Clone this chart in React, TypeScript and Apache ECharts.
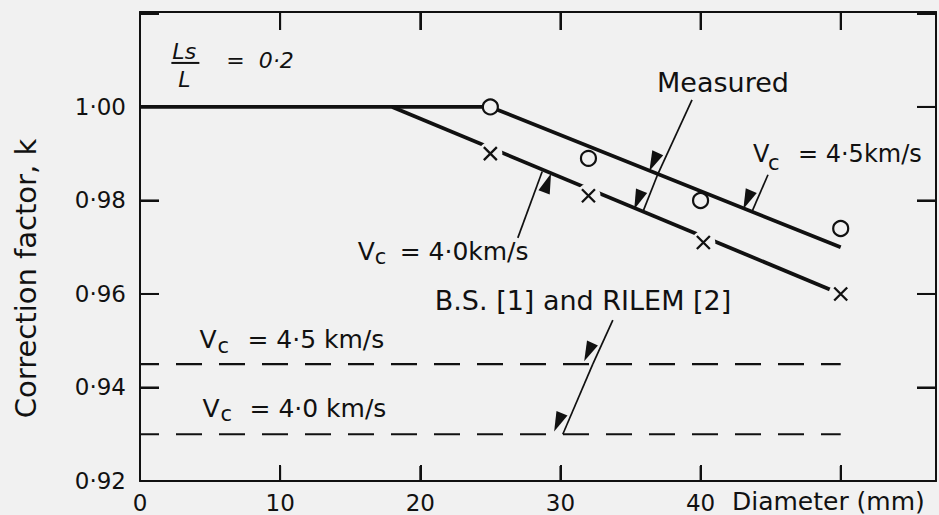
import React, { useEffect, useRef } from "react";
import * as echarts from "echarts";

// ---- axis ticks / labels ----
const xInterval = 10;
const xTickValues = [10, 20, 30, 40, 50];
const xLabelValues = [0, 10, 20, 30, 40];
const yInterval = 0.02;
const yLabelValues = [0.92, 0.94, 0.96, 0.98, 1.0];
const yLeftTickValues = [0.94, 0.96, 0.98];
const yRightTickValues = [0.94, 0.96, 0.98, 1.0];

// ---- measured points ----
// Vc = 4.5 km/s (circles)
const diam45 = [25, 32, 40, 50];
const k45 = [1.0, 0.989, 0.98, 0.974];
// Vc = 4.0 km/s (crosses)
const diam40 = [25, 32, 40.2, 50];
const k40 = [0.99, 0.981, 0.971, 0.96];

// ---- fitted "measured" lines ----
const fit45X = [0, 25, 50];
const fit45K = [1.0, 1.0, 0.97];
const fit40X = [18, 50];
const fit40K = [1.0, 0.96];

// ---- B.S. / RILEM recommended values ----
const bsX = [0, 50];
const bs45K = [0.945, 0.945];
const bs40K = [0.93, 0.93];

// ---- annotation arrows (data coords: from -> to) ----
const arrowFrom = [
  [39.39, 1.0015],
  [36.96, 0.9857],
  [44.81, 0.9855],
  [26.96, 0.972],
  [33.74, 0.9544],
  [32.31, 0.945],
];
const arrowTo = [
  [36.96, 0.9857],
  [35.89, 0.9776],
  [43.67, 0.9776],
  [28.7, 0.9862],
  [32.31, 0.945],
  [30.17, 0.93],
];

const INK = "#111111";
const BG = "#f1f1f1";
const FONT = "DejaVu Sans";

const zip = (xs: number[], ys: number[]) => xs.map((x, i) => [x, ys[i]]);
const fmt = (v: number) => v.toFixed(2).replace(".", "\u00b7");
const near = (list: number[], v: number, eps: number) =>
  list.some((u) => Math.abs(u - v) < eps);

export default function App() {
  const ref = useRef<HTMLDivElement>(null);

  useEffect(() => {
    const chart = echarts.init(ref.current!, null, { renderer: "svg" });

    const axisLine = { show: true, onZero: false, lineStyle: { color: INK, width: 2 } };
    const xMax = 56.8;
    const yMax = 1.0203;
    const xRange = { min: 0, max: xMax, interval: xInterval };
    const yRange = { min: 0.92, max: yMax, interval: yInterval };
    const tick = (len: number) => ({
      show: true,
      inside: true,
      length: len,
      lineStyle: { color: INK, width: 2 },
    });

    const option: any = {
      animation: false,
      backgroundColor: BG,
      grid: { left: 140, right: 3, top: 12, bottom: 34, containLabel: false },
      xAxis: [
        {
          type: "value",
          position: "bottom",
          ...xRange,
          axisLine,
          splitLine: { show: false },
          axisTick: tick(16),
          axisLabel: {
            show: true,
            showMinLabel: true,
            showMaxLabel: false,
            formatter: (v: number) => (near(xLabelValues, v, 1e-6) ? String(v) : ""),
            color: INK,
            fontSize: 23,
            fontFamily: FONT,
            margin: 10,
          },
        },
        {
          type: "value",
          position: "top",
          ...xRange,
          axisLine,
          splitLine: { show: false },
          axisTick: tick(18),
          axisLabel: { show: false },
        },
      ],
      yAxis: [
        {
          type: "value",
          position: "left",
          ...yRange,
          axisLine,
          splitLine: { show: false },
          axisTick: tick(19),
          axisLabel: {
            show: true,
            showMinLabel: true,
            showMaxLabel: false,
            formatter: (v: number) => (near(yLabelValues, v, 1e-6) ? fmt(v) : ""),
            color: INK,
            fontSize: 23,
            fontFamily: FONT,
            margin: 14,
          },
        },
        {
          type: "value",
          position: "right",
          ...yRange,
          axisLine,
          splitLine: { show: false },
          axisTick: tick(19),
          axisLabel: { show: false },
        },
      ],
      series: [
        {
          type: "line",
          name: "Measured Vc=4.5",
          data: zip(fit45X, fit45K),
          symbol: "none",
          silent: true,
          z: 2,
          lineStyle: { color: INK, width: 3.8 },
          markLine: {
            silent: true,
            symbol: ["none", "triangle"],
            symbolSize: [12, 20],
            symbolOffset: [0, 9],
            label: { show: false },
            lineStyle: { color: INK, width: 1.7, type: "solid" },
            itemStyle: { color: INK },
            emphasis: { disabled: true },
            data: arrowFrom.map((f, i) => [{ coord: f }, { coord: arrowTo[i] }]),
          },
        },
        {
          type: "line",
          name: "Measured Vc=4.0",
          data: zip(fit40X, fit40K),
          symbol: "none",
          silent: true,
          z: 2,
          lineStyle: { color: INK, width: 3.8 },
        },
        {
          type: "line",
          name: "BS Vc=4.5",
          data: zip(bsX, bs45K),
          symbol: "none",
          silent: true,
          z: 2,
          lineStyle: { color: INK, width: 2.2, type: [26, 17], dashOffset: 7 },
        },
        {
          type: "line",
          name: "BS Vc=4.0",
          data: zip(bsX, bs40K),
          symbol: "none",
          silent: true,
          z: 2,
          lineStyle: { color: INK, width: 2.2, type: [26, 17], dashOffset: 7 },
        },
        {
          type: "scatter",
          name: "halo",
          data: zip(diam40, k40),
          symbol: "circle",
          symbolSize: 24,
          silent: true,
          z: 3,
          itemStyle: { color: BG, opacity: 1 },
        },
        {
          type: "scatter",
          name: "Vc=4.0 points",
          data: zip(diam40, k40),
          symbol: "path://M0,0L10,10M10,0L0,10",
          symbolSize: 13,
          silent: true,
          z: 4,
          itemStyle: { color: "none", borderColor: INK, borderWidth: 2.3, opacity: 1 },
        },
        {
          type: "scatter",
          name: "Vc=4.5 points",
          data: zip(diam45, k45),
          symbol: "circle",
          symbolSize: 15,
          silent: true,
          z: 4,
          itemStyle: { color: BG, borderColor: INK, borderWidth: 2.2, opacity: 1 },
        },
      ],
    };

    chart.setOption(option);

    const P = (x: number, y: number) =>
      chart.convertToPixel({ seriesIndex: 0 }, [x, y]) as number[];

    const txt = (
      x: number,
      y: number,
      text: string,
      size: number,
      extra: any = {}
    ) => ({
      type: "text",
      x,
      y,
      silent: true,
      z: 10,
      style: {
        text,
        fill: INK,
        fontSize: size,
        fontFamily: FONT,
        align: "left",
        verticalAlign: "middle",
        ...extra,
      },
    });

    const seg = (x1: number, y1: number, x2: number, y2: number, w = 2) => ({
      type: "line",
      silent: true,
      z: 10,
      shape: { x1, y1, x2, y2 },
      style: { stroke: INK, lineWidth: w },
    });

    const vcLabel = (
      ax: number,
      ay: number,
      rest: string,
      subDx: number,
      subDy: number,
      restDx: number,
      size: number
    ) => {
      const [px, py] = P(ax, ay);
      return [
        txt(px, py, "V", size),
        txt(px + subDx, py + subDy, "c", 21),
        txt(px + restDx, py, rest, size),
      ];
    };

    const g: any[] = [];

    // frame tick marks (inward), placed through the axes' scales
    const [, yBotPx] = P(0, 0.92);
    const [, yTopPx] = P(0, yMax);
    const [xLeftPx] = P(0, 0.92);
    const [xRightPx] = P(xMax, 0.92);
    xTickValues.forEach((v) => {
      const [px] = P(v, 0.92);
      g.push(seg(px, yBotPx, px, yBotPx - 15));
      g.push(seg(px, yTopPx, px, yTopPx + 18));
    });
    yLeftTickValues.forEach((v) => {
      const [, py] = P(0, v);
      g.push(seg(xLeftPx, py, xLeftPx + 19, py));
    });
    yRightTickValues.forEach((v) => {
      const [, py] = P(0, v);
      g.push(seg(xRightPx, py, xRightPx - 19, py));
    });

    // "Measured"
    {
      const [px, py] = P(41.6, 1.00513);
      g.push(txt(px, py, "Measured", 27, { align: "center" }));
    }
    g.push(...vcLabel(43.74, 0.98995, "= 4\u00b75km/s", 15, 9, 45, 24));
    g.push(...vcLabel(15.53, 0.96898, "= 4\u00b70km/s", 17, 5, 42, 25));
    g.push(...vcLabel(4.24, 0.95016, "= 4\u00b75 km/s", 18, 6, 48, 25));
    g.push(...vcLabel(4.46, 0.93561, "= 4\u00b70 km/s", 18, 6, 47, 25));
    {
      const [px, py] = P(21.03, 0.9585);
      g.push(txt(px, py, "B.S. [1] and RILEM [2]", 27));
    }
    // Ls / L = 0·2
    {
      const [px, py] = P(2.31, 1.01176);
      g.push(txt(px, py, "Ls", 22, { fontStyle: "italic" }));
      g.push(seg(px - 1, py + 11, px + 27, py + 11));
      g.push(txt(px + 12, py + 28, "L", 22, { fontStyle: "italic", align: "center" }));
      g.push(txt(px + 54, py + 9, "=  0\u00b72", 22, { fontStyle: "italic" }));
    }
    // axis titles
    {
      const [px, py] = P(42.24, 0.92);
      g.push(txt(px, py + 20, "Diameter (mm)", 25));
    }
    g.push({
      type: "text",
      x: 26,
      y: (yTopPx + yBotPx) / 2 + 32,
      rotation: Math.PI / 2,
      silent: true,
      z: 10,
      style: {
        text: "Correction factor, k",
        fill: INK,
        fontSize: 29,
        fontFamily: FONT,
        align: "center",
        verticalAlign: "middle",
      },
    });

    chart.setOption({ graphic: g });

    return () => chart.dispose();
  }, []);

  return (
    <div
      ref={ref}
      style={{
        position: "fixed",
        left: 0,
        top: 0,
        width: 939,
        height: 515,
        background: BG,
      }}
    />
  );
}
